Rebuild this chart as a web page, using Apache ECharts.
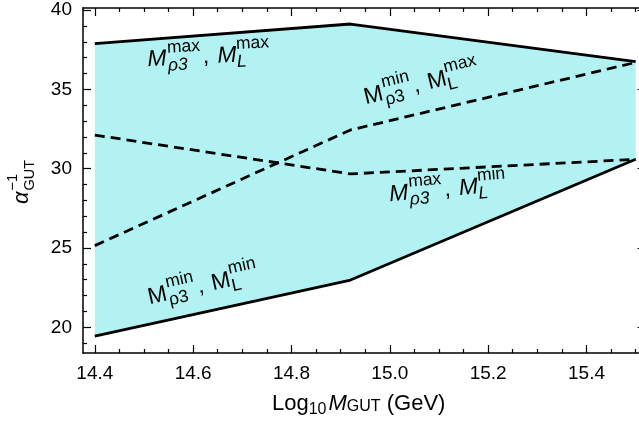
<!DOCTYPE html>
<html>
<head>
<meta charset="utf-8">
<script src="https://cdn.jsdelivr.net/npm/echarts@6/dist/echarts.min.js"></script>
<style>
html,body{margin:0;padding:0;background:#fff;}
#chart{width:639px;height:423px;}
</style>
</head>
<body>
<div id="chart"></div>
<script>
// ---- data ----
const xs = [14.4, 14.92, 15.5];
const upperSolid = [37.88, 39.12, 36.75];
const lowerSolid = [19.45, 22.98, 30.59];
const dashedMinMax = [25.15, 32.44, 36.70];
const dashedMaxMin = [32.12, 29.67, 30.59];

const xMajorTicks = [14.4, 14.6, 14.8, 15.0, 15.2, 15.4];
const xMinorTicks = [14.45, 14.5, 14.55, 14.65, 14.7, 14.75, 14.85, 14.9, 14.95, 15.05, 15.1, 15.15, 15.25, 15.3, 15.35, 15.45, 15.5];
const yMajorTicks = [20, 25, 30, 35, 40];
const yMinorTicks = [19, 21, 22, 23, 24, 26, 27, 28, 29, 31, 32, 33, 34, 36, 37, 38, 39];

// annotation labels (anchored in data coordinates)
const annX = [14.508, 14.952, 15.0, 14.512];
const annY = [36.35, 33.95, 27.85, 21.35];
const annRot = [3, 13.5, 5, 12.5];
const annItalic = [true, false, true, false];
const annSupRho = ['max', 'min', 'max', 'min'];
const annSupL = ['max', 'max', 'min', 'min'];

const FONT = '"Liberation Sans", Arial, Helvetica, sans-serif';
const FILL = 'rgb(178,242,242)';
const X_MIN = 14.376, X_MAX = 15.52, Y_MIN = 18.38, Y_MAX = 40.13;

const pair = (a, b) => a.map((v, i) => [v, b[i]]);

const chart = echarts.init(document.getElementById('chart'), null, {renderer: 'canvas'});

function xAxisDef(pos, ticks, len, labels) {
  return {
    type: 'value', position: pos, min: X_MIN, max: X_MAX, z: 10,
    axisLine: {show: labels, onZero: false, lineStyle: {color: '#000', width: 1.5}},
    splitLine: {show: false},
    axisTick: {show: true, inside: true, length: len, customValues: ticks, lineStyle: {color: '#000', width: 1.2}},
    axisLabel: {show: labels && pos === 'bottom', customValues: xMajorTicks, margin: 11,
      formatter: v => v.toFixed(1), color: '#000', fontSize: 19, fontFamily: FONT}
  };
}
function yAxisDef(pos, ticks, len, labels) {
  return {
    type: 'value', position: pos, min: Y_MIN, max: Y_MAX, z: 10,
    axisLine: {show: labels, onZero: false, lineStyle: {color: '#000', width: 1.5}},
    splitLine: {show: false},
    axisTick: {show: true, inside: true, length: len, customValues: ticks, lineStyle: {color: '#000', width: 1.2}},
    axisLabel: {show: labels && pos === 'left', customValues: yMajorTicks, margin: 11,
      formatter: v => String(v), color: '#000', fontSize: 19, fontFamily: FONT}
  };
}

const option = {
  animation: false,
  backgroundColor: '#fff',
  grid: {left: 83, top: 8, width: 562.5, height: 345, containLabel: false, outerBoundsMode: 'none'},
  xAxis: [
    xAxisDef('bottom', xMajorTicks, 8, true),
    xAxisDef('bottom', xMinorTicks, 4, false),
    xAxisDef('top', xMajorTicks, 8, true),
    xAxisDef('top', xMinorTicks, 4, false)
  ],
  yAxis: [
    yAxisDef('left', yMajorTicks, 8, true),
    yAxisDef('left', yMinorTicks, 4, false),
    yAxisDef('right', yMajorTicks, 8, true),
    yAxisDef('right', yMinorTicks, 4, false)
  ],
  series: [
    {type: 'custom', silent: true, z: 1,
      data: xs.map((x, i) => [x, lowerSolid[i], upperSolid[i]]),
      encode: {x: 0, y: [1, 2]},
      renderItem: function (params, api) {
        if (params.dataIndex !== 0) return null;
        const top = xs.map((x, i) => api.coord([x, upperSolid[i]]));
        const bot = xs.map((x, i) => api.coord([x, lowerSolid[i]])).reverse();
        return {type: 'polygon', shape: {points: top.concat(bot)}, style: {fill: FILL}};
      }},
    {type: 'line', data: pair(xs, lowerSolid), symbol: 'none', z: 3,
      lineStyle: {color: '#000', width: 2.8}},
    {type: 'line', data: pair(xs, upperSolid), symbol: 'none', z: 3,
      lineStyle: {color: '#000', width: 2.8}},
    {type: 'line', data: pair(xs, dashedMinMax), symbol: 'none', z: 3,
      lineStyle: {color: '#000', width: 2.8, type: [10, 6]}},
    {type: 'line', data: pair(xs, dashedMaxMin), symbol: 'none', z: 3,
      lineStyle: {color: '#000', width: 2.8, type: [10, 6]}}
  ]
};
chart.setOption(option);

// ---- math-like text helpers ----
const mctx = document.createElement('canvas').getContext('2d');
function fontStr(size, italic) { return (italic ? 'italic ' : '') + size + 'px ' + FONT; }
function tw(t, size, italic) { mctx.font = fontStr(size, italic); return mctx.measureText(t).width; }
function txt(children, t, size, italic, x, baseline) {
  children.push({type: 'text', x: x, y: baseline - 0.35 * size, z: 100,
    style: {text: t, font: fontStr(size, italic), fill: '#000', align: 'left', verticalAlign: 'middle'}});
  return tw(t, size, italic);
}
// parts: {t,s,i,dy,dx} or {sup,sub,s,subi,up,down}
function mathGroup(parts, x, y, rotDeg) {
  const children = [];
  let cx = 0;
  for (const p of parts) {
    if (p.sup !== undefined) {
      cx += (p.dx || 0);
      const a = txt(children, p.sup, p.s, false, cx, -p.up);
      const b = txt(children, p.sub, p.s, p.subi, cx, p.down);
      cx += Math.max(a, b);
    } else {
      cx += (p.dx || 0);
      cx += txt(children, p.t, p.s, p.i, cx, p.dy || 0);
    }
  }
  return {type: 'group', x: x, y: y, rotation: rotDeg * Math.PI / 180, children: children, z: 100};
}

function drawAnnotations() {
  const g = [];
  for (let k = 0; k < annX.length; k++) {
    const p = chart.convertToPixel({xAxisIndex: 0, yAxisIndex: 0}, [annX[k], annY[k]]);
    const it = annItalic[k];
    g.push(mathGroup([
      {t: 'M', s: 23, i: it},
      {sup: annSupRho[k], sub: 'ρ3', s: 17.5, subi: it, up: 13, down: 5, dx: 1},
      {t: ', ', s: 23, i: false, dx: 2},
      {t: 'M', s: 23, i: it, dx: 2},
      {sup: annSupL[k], sub: 'L', s: 17.5, subi: it, up: 13, down: 5}
    ], p[0], p[1], annRot[k]));
  }
  // y axis title
  g.push(mathGroup([
    {t: 'α', s: 22, i: true},
    {sup: '−1', sub: 'GUT', s: 14.5, subi: false, up: 12, down: 5, dx: 1}
  ], 30, 204, 90));
  // x axis title
  g.push(mathGroup([
    {t: 'Log', s: 22, i: false},
    {t: '10', s: 16, i: false, dy: 3},
    {t: 'M', s: 22, i: true, dx: 2},
    {t: 'GUT', s: 16, i: false},
    {t: ' (GeV)', s: 22, i: false}
  ], 272, 412, 0));
  chart.setOption({graphic: {z: 100, elements: g}});
}
drawAnnotations();
</script>
</body>
</html>
